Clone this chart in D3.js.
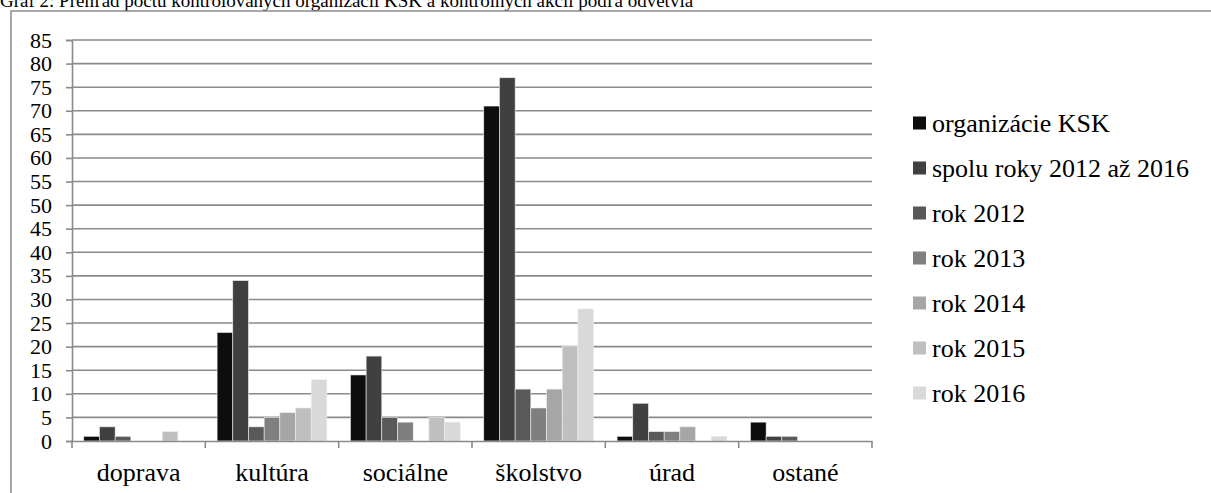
<!DOCTYPE html>
<html>
<head>
<meta charset="utf-8">
<script src="https://cdn.jsdelivr.net/npm/d3@7"></script>
<style>
  body { margin: 0; background: #fff; }
</style>
</head>
<body>
<svg id="chart" width="1211" height="493"></svg>
<script>
// data
var categories = ["doprava", "kultúra", "sociálne", "školstvo", "úrad", "ostané"];
var seriesNames = ["organizácie KSK", "spolu roky 2012 až 2016", "rok 2012", "rok 2013", "rok 2014", "rok 2015", "rok 2016"];
var seriesColors = ["#0d0d0d", "#404040", "#595959", "#7f7f7f", "#a6a6a6", "#bfbfbf", "#d9d9d9"];
var orgKSK   = [1, 23, 14, 71, 1, 4];
var spolu    = [3, 34, 18, 77, 8, 1];
var rok2012  = [1, 3, 5, 11, 2, 1];
var rok2013  = [0, 5, 4, 7, 2, 0];
var rok2014  = [0, 6, 0, 11, 3, 0];
var rok2015  = [2, 7, 5, 20, 0, 0];
var rok2016  = [0, 13, 4, 28, 1, 0];
var yTicks = d3.range(0, 86, 5);

var values = [orgKSK, spolu, rok2012, rok2013, rok2014, rok2015, rok2016];
var serif = "'Liberation Serif', 'Times New Roman', Times, Tinos, 'Nimbus Roman', 'Nimbus Roman No9 L', FreeSerif, 'Noto Serif', 'DejaVu Serif', serif";

var svg = d3.select("#chart").attr("font-family", serif);

// title (partly cut off at the top, as in the original)
svg.append("text")
  .attr("x", 0).attr("y", 7)
  .attr("font-family", serif)
  .attr("font-size", 19)
  .text("Graf 2: Prehľad počtu kontrolovaných organizácií KSK a kontrolných akcií podľa odvetvia");

// outer frame
svg.append("rect")
  .attr("x", 11).attr("y", 11)
  .attr("width", 1300).attr("height", 600)
  .attr("fill", "none")
  .attr("stroke", "#8c8c8c")
  .attr("stroke-width", 1.5);

var x = d3.scaleBand().domain(categories).range([72, 872]);
var xs = d3.scaleBand().domain(d3.range(seriesNames.length))
  .range([0, x.bandwidth()]).paddingOuter(0.75);
var y = d3.scaleLinear().domain([0, 85]).range([441, 40]);

// gridlines
svg.append("g").selectAll("line")
  .data(yTicks.filter(function(d) { return d > 0; }))
  .enter().append("line")
  .attr("x1", 72).attr("x2", 872)
  .attr("y1", function(d) { return y(d); })
  .attr("y2", function(d) { return y(d); })
  .attr("stroke", "#8a8a8a")
  .attr("stroke-width", 1.6);

// bars
var group = svg.append("g").selectAll("g")
  .data(categories)
  .enter().append("g")
  .attr("transform", function(d) { return "translate(" + x(d) + ",0)"; });

group.selectAll("rect")
  .data(function(c, ci) {
    return values.map(function(s, si) { return { si: si, v: s[ci] }; });
  })
  .enter().append("rect")
  .attr("x", function(d) { return xs(d.si); })
  .attr("width", xs.bandwidth())
  .attr("y", function(d) { return y(d.v); })
  .attr("height", function(d) { return y(0) - y(d.v); })
  .attr("fill", function(d) { return seriesColors[d.si]; })
  .attr("stroke", "#eeeeee")
  .attr("stroke-width", 0.6);

// y axis
var yAxis = svg.append("g")
  .attr("transform", "translate(72,0)")
  .call(d3.axisLeft(y).tickValues(yTicks).tickSize(6).tickPadding(14));
yAxis.attr("font-family", serif).attr("font-size", 22);
yAxis.select(".domain").attr("stroke", "#8a8a8a").attr("stroke-width", 1.6);
yAxis.selectAll(".tick line").attr("stroke", "#8a8a8a").attr("stroke-width", 1.6);
yAxis.selectAll("text").attr("fill", "#000");

// x axis
var xAxis = svg.append("g")
  .attr("transform", "translate(0,441)")
  .call(d3.axisBottom(x).tickSize(0).tickPadding(22));
xAxis.attr("font-family", serif).attr("font-size", 26);
xAxis.select(".domain").attr("stroke", "#8a8a8a").attr("stroke-width", 1.6);
xAxis.selectAll("text").attr("fill", "#000");
xAxis.selectAll(".sep")
  .data(categories.concat(["end"]))
  .enter().append("line")
  .attr("class", "sep")
  .attr("x1", function(d, i) { return 72 + i * x.step(); })
  .attr("x2", function(d, i) { return 72 + i * x.step(); })
  .attr("y1", 0).attr("y2", 7)
  .attr("stroke", "#8a8a8a")
  .attr("stroke-width", 1.6);

// legend
var legend = svg.append("g").attr("transform", "translate(913,123)");
var item = legend.selectAll("g")
  .data(seriesNames)
  .enter().append("g")
  .attr("transform", function(d, i) { return "translate(0," + i * 45 + ")"; });
item.append("rect")
  .attr("x", 0).attr("y", -6.5)
  .attr("width", 13).attr("height", 13)
  .attr("fill", function(d, i) { return seriesColors[i]; });
item.append("text")
  .attr("x", 19).attr("y", 0)
  .attr("dy", "0.35em")
  .attr("font-family", serif)
  .attr("font-size", 26)
  .text(function(d) { return d; });
</script>
</body>
</html>
